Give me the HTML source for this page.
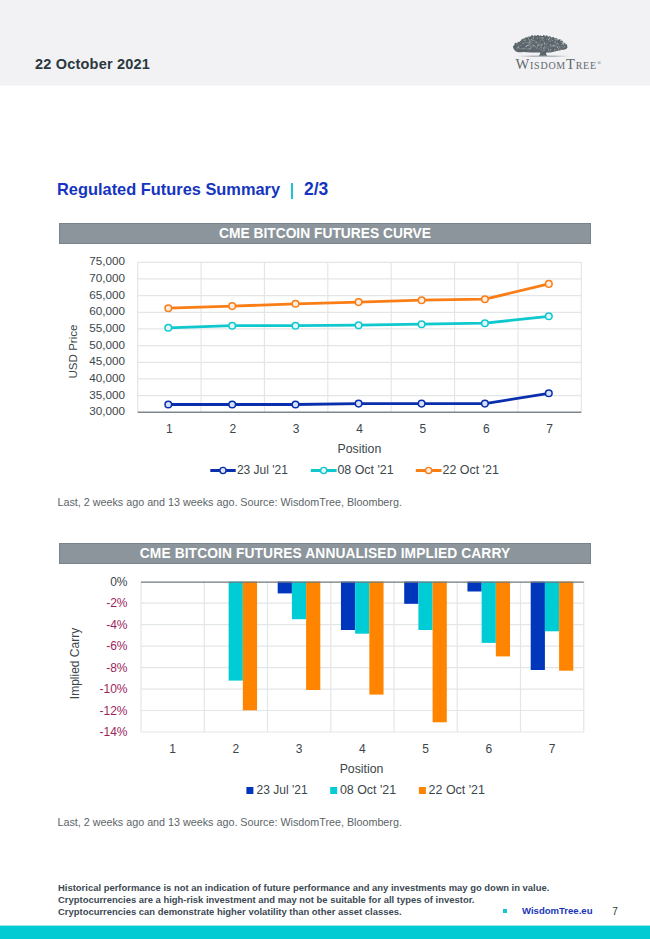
<!DOCTYPE html>
<html><head><meta charset="utf-8"><style>
html,body{margin:0;padding:0;background:#fff;}
body{width:650px;height:939px;position:relative;overflow:hidden;font-family:"Liberation Sans", Arial, sans-serif;}
.abs{position:absolute;white-space:nowrap;}
svg text{font-family:"Liberation Sans", Arial, sans-serif;}
.yl{font-size:12px;fill:#3b464b;}
.yl2{font-size:12px;fill:#9c1f5c;}
.xl{font-size:12px;fill:#3b464b;}
.hbar{position:absolute;left:59px;width:530px;height:19px;background:#8b959b;border:1px solid #79848a;color:#fff;font-weight:bold;font-size:13.8px;line-height:20px;text-align:center;}
</style></head><body>
<div class="abs" style="left:0;top:0;width:650px;height:86px;background:linear-gradient(#f2f2f4 85px,#f8f8f9 85px)"></div>
<div class="abs" style="left:35px;top:55px;font-size:14.5px;font-weight:bold;color:#2b383e;line-height:18px;letter-spacing:0.2px">22 October 2021</div>
<svg width="100" height="45" viewBox="505 30 100 45" style="position:absolute;left:505px;top:30px">
<defs><linearGradient id="gnd" x1="0" x2="1" y1="0" y2="0"><stop offset="0" stop-color="#b9bec1" stop-opacity="0"/><stop offset="0.3" stop-color="#a3a9ad"/><stop offset="0.7" stop-color="#a3a9ad"/><stop offset="1" stop-color="#b9bec1" stop-opacity="0"/></linearGradient></defs>
<path d="M513,47.2 C513.6,45 515.5,43.6 517.5,43.2 C518.5,42 519.5,42 520.2,41.6 C521.5,40 523.5,38.6 526.3,38.1 C528.5,36.8 531,36.4 533.4,36.2 C535.5,35.4 538.5,35.6 541.5,36.1 C543.5,35.8 545.5,36 546.6,36.6 C549,36.6 551.5,37.2 553.7,38.1 C556.5,38.6 558.8,40 560.8,41.6 C562.8,42.4 564.6,43.8 565.9,45.2 C567,45.8 567.8,46.5 567.4,47.4 C566.8,48.6 565.8,49.2 564.6,49.4 C561.8,50 559.2,50.2 556.7,50.9 C554.4,51.3 552.4,52 550.6,52.6 L546.2,52.5 C545.9,53.8 546.2,55 547.6,56 L538.4,56 C539.8,55 540.4,53.8 540.3,52.5 L533.4,52.4 C529.8,52.6 526.4,52.2 523.2,51.9 C520.8,52.2 518.8,52.2 517.1,51.9 C515.2,51.2 513.6,49.4 513,47.2 Z" fill="#5b646a"/>
<path d="M543,52 C540,48 534,46 526,45.5 M543,51 C545,47 551,45 559,44.8 M542,50 C541,45 537,41 531,39.5 M544,49 C546,44 548,41 552,39.5 M536,47 C532,43 528,42 522,43 M550,47 C554,46 558,46.5 563,47 M540,46 C539,42 541,39 544,37.5 M530,49.5 C526,48.5 521,48.5 516,49" fill="none" stroke="#8c9499" stroke-width="0.6"/>
<circle cx="566.2" cy="45.3" r="1.06" fill="#5b646a"/><circle cx="564.3" cy="43.8" r="1.17" fill="#5b646a"/><circle cx="561.6" cy="41.6" r="1.22" fill="#5b646a"/><circle cx="559.4" cy="40.3" r="1.16" fill="#5b646a"/><circle cx="556.3" cy="39.0" r="0.96" fill="#5b646a"/><circle cx="553.2" cy="38.1" r="1.16" fill="#5b646a"/><circle cx="549.8" cy="37.3" r="1.06" fill="#5b646a"/><circle cx="546.6" cy="36.3" r="0.95" fill="#5b646a"/><circle cx="543.8" cy="36.0" r="1.00" fill="#5b646a"/><circle cx="540.8" cy="36.2" r="0.80" fill="#5b646a"/><circle cx="537.9" cy="36.0" r="1.05" fill="#5b646a"/><circle cx="534.8" cy="36.0" r="0.80" fill="#5b646a"/><circle cx="532.0" cy="36.5" r="1.28" fill="#5b646a"/><circle cx="528.8" cy="37.7" r="1.29" fill="#5b646a"/><circle cx="526.0" cy="38.2" r="1.02" fill="#5b646a"/><circle cx="523.3" cy="39.5" r="0.95" fill="#5b646a"/><circle cx="521.3" cy="41.6" r="1.14" fill="#5b646a"/><circle cx="518.3" cy="42.7" r="0.84" fill="#5b646a"/><circle cx="515.7" cy="43.8" r="1.17" fill="#5b646a"/><circle cx="513.9" cy="46.5" r="0.83" fill="#5b646a"/><circle cx="531.5" cy="39.6" r="0.59" fill="#a9afb3"/><circle cx="518.7" cy="45.0" r="0.46" fill="#a9afb3"/><circle cx="518.0" cy="44.6" r="0.32" fill="#a9afb3"/><circle cx="537.1" cy="38.5" r="0.34" fill="#a9afb3"/><circle cx="536.7" cy="49.1" r="0.36" fill="#a9afb3"/><circle cx="526.4" cy="46.3" r="0.73" fill="#a9afb3"/><circle cx="544.4" cy="43.1" r="0.74" fill="#a9afb3"/><circle cx="529.8" cy="39.5" r="0.35" fill="#a9afb3"/><circle cx="530.7" cy="48.9" r="0.38" fill="#a9afb3"/><circle cx="544.7" cy="46.4" r="0.47" fill="#a9afb3"/><circle cx="542.9" cy="38.4" r="0.33" fill="#a9afb3"/><circle cx="525.5" cy="47.0" r="0.49" fill="#a9afb3"/><circle cx="531.0" cy="45.7" r="0.50" fill="#a9afb3"/><circle cx="530.3" cy="48.6" r="0.61" fill="#a9afb3"/><circle cx="527.4" cy="45.5" r="0.54" fill="#a9afb3"/><circle cx="559.6" cy="47.7" r="0.43" fill="#a9afb3"/><circle cx="536.3" cy="48.1" r="0.37" fill="#a9afb3"/><circle cx="539.9" cy="38.0" r="0.60" fill="#a9afb3"/><circle cx="554.0" cy="45.5" r="0.69" fill="#a9afb3"/><circle cx="531.0" cy="47.2" r="0.57" fill="#a9afb3"/><circle cx="544.6" cy="43.9" r="0.68" fill="#a9afb3"/><circle cx="563.2" cy="44.1" r="0.60" fill="#a9afb3"/><circle cx="518.1" cy="47.3" r="0.59" fill="#a9afb3"/><circle cx="529.5" cy="42.9" r="0.60" fill="#a9afb3"/><circle cx="516.2" cy="44.0" r="0.38" fill="#a9afb3"/><circle cx="554.2" cy="39.3" r="0.41" fill="#a9afb3"/><circle cx="534.9" cy="49.7" r="0.34" fill="#a9afb3"/><circle cx="537.9" cy="45.2" r="0.70" fill="#a9afb3"/><circle cx="556.8" cy="49.6" r="0.43" fill="#a9afb3"/><circle cx="536.2" cy="42.5" r="0.70" fill="#a9afb3"/><circle cx="524.0" cy="40.7" r="0.41" fill="#a9afb3"/><circle cx="539.7" cy="45.7" r="0.42" fill="#a9afb3"/><circle cx="533.8" cy="45.4" r="0.73" fill="#a9afb3"/><circle cx="550.2" cy="44.7" r="0.58" fill="#a9afb3"/><circle cx="549.5" cy="38.3" r="0.70" fill="#a9afb3"/><circle cx="554.8" cy="49.7" r="0.66" fill="#a9afb3"/><circle cx="535.0" cy="43.1" r="0.35" fill="#a9afb3"/><circle cx="547.3" cy="38.4" r="0.33" fill="#a9afb3"/><circle cx="525.6" cy="39.8" r="0.45" fill="#a9afb3"/><circle cx="533.5" cy="37.9" r="0.69" fill="#a9afb3"/><circle cx="546.3" cy="39.6" r="0.41" fill="#a9afb3"/><circle cx="532.7" cy="42.6" r="0.36" fill="#a9afb3"/><circle cx="538.8" cy="44.3" r="0.34" fill="#a9afb3"/><circle cx="520.2" cy="42.3" r="0.42" fill="#a9afb3"/><circle cx="557.3" cy="39.8" r="0.31" fill="#a9afb3"/><circle cx="563.5" cy="44.9" r="0.37" fill="#a9afb3"/><circle cx="542.7" cy="37.9" r="0.54" fill="#a9afb3"/><circle cx="550.5" cy="41.2" r="0.47" fill="#a9afb3"/><circle cx="523.5" cy="48.3" r="0.54" fill="#a9afb3"/><circle cx="554.7" cy="42.1" r="0.40" fill="#a9afb3"/><circle cx="558.5" cy="48.8" r="0.67" fill="#a9afb3"/><circle cx="552.7" cy="40.7" r="0.53" fill="#a9afb3"/><circle cx="533.1" cy="37.9" r="0.31" fill="#a9afb3"/><circle cx="529.3" cy="41.1" r="0.61" fill="#a9afb3"/><circle cx="563.8" cy="43.8" r="0.72" fill="#a9afb3"/><circle cx="533.6" cy="40.6" r="0.40" fill="#a9afb3"/><circle cx="525.0" cy="40.4" r="0.58" fill="#a9afb3"/><circle cx="560.9" cy="49.3" r="0.52" fill="#a9afb3"/><circle cx="548.3" cy="48.7" r="0.34" fill="#a9afb3"/><circle cx="548.7" cy="50.2" r="0.65" fill="#a9afb3"/><circle cx="553.3" cy="44.2" r="0.38" fill="#a9afb3"/><circle cx="555.2" cy="42.2" r="0.66" fill="#a9afb3"/><circle cx="564.6" cy="43.0" r="0.48" fill="#a9afb3"/><circle cx="563.3" cy="47.6" r="0.38" fill="#a9afb3"/><circle cx="521.5" cy="39.6" r="0.71" fill="#a9afb3"/><circle cx="556.1" cy="39.5" r="0.67" fill="#a9afb3"/><circle cx="565.0" cy="46.7" r="0.46" fill="#a9afb3"/><circle cx="543.0" cy="39.3" r="0.31" fill="#a9afb3"/><circle cx="564.5" cy="46.6" r="0.54" fill="#a9afb3"/><circle cx="562.6" cy="43.6" r="0.69" fill="#a9afb3"/><circle cx="557.1" cy="40.5" r="0.41" fill="#a9afb3"/><circle cx="529.9" cy="40.9" r="0.56" fill="#a9afb3"/><circle cx="528.2" cy="43.4" r="0.36" fill="#a9afb3"/><circle cx="561.4" cy="42.5" r="0.51" fill="#a9afb3"/><circle cx="544.8" cy="50.2" r="0.49" fill="#a9afb3"/><circle cx="561.8" cy="44.5" r="0.54" fill="#a9afb3"/><circle cx="541.7" cy="37.8" r="0.50" fill="#a9afb3"/><circle cx="555.8" cy="39.9" r="0.51" fill="#a9afb3"/><circle cx="552.0" cy="45.3" r="0.45" fill="#a9afb3"/><circle cx="541.4" cy="45.3" r="0.65" fill="#a9afb3"/><circle cx="520.4" cy="45.3" r="0.41" fill="#a9afb3"/><circle cx="529.1" cy="48.3" r="0.53" fill="#a9afb3"/><circle cx="543.6" cy="48.1" r="0.71" fill="#a9afb3"/><circle cx="537.6" cy="46.1" r="0.53" fill="#a9afb3"/><circle cx="541.1" cy="47.2" r="0.50" fill="#a9afb3"/><circle cx="542.2" cy="44.2" r="0.72" fill="#a9afb3"/><circle cx="550.7" cy="49.8" r="0.72" fill="#a9afb3"/><circle cx="528.2" cy="45.3" r="0.72" fill="#a9afb3"/><circle cx="557.8" cy="39.4" r="0.35" fill="#a9afb3"/><circle cx="537.5" cy="38.5" r="0.41" fill="#a9afb3"/><circle cx="518.7" cy="46.9" r="0.65" fill="#a9afb3"/><circle cx="560.7" cy="39.7" r="0.62" fill="#a9afb3"/><circle cx="548.7" cy="39.5" r="0.70" fill="#a9afb3"/><circle cx="563.6" cy="43.1" r="0.52" fill="#a9afb3"/><circle cx="523.2" cy="43.5" r="0.53" fill="#a9afb3"/><circle cx="532.3" cy="40.2" r="0.44" fill="#a9afb3"/><circle cx="551.8" cy="37.8" r="0.55" fill="#a9afb3"/><circle cx="537.5" cy="37.8" r="0.45" fill="#a9afb3"/><circle cx="546.8" cy="44.7" r="0.33" fill="#a9afb3"/><circle cx="528.5" cy="38.1" r="0.65" fill="#a9afb3"/><circle cx="528.8" cy="39.3" r="0.49" fill="#a9afb3"/><circle cx="561.5" cy="49.0" r="0.42" fill="#a9afb3"/><circle cx="544.1" cy="47.3" r="0.34" fill="#a9afb3"/><circle cx="517.9" cy="47.1" r="0.49" fill="#a9afb3"/><circle cx="547.4" cy="48.7" r="0.34" fill="#a9afb3"/><circle cx="559.0" cy="43.9" r="0.45" fill="#a9afb3"/><circle cx="543.2" cy="50.5" r="0.42" fill="#a9afb3"/><circle cx="521.6" cy="44.9" r="0.41" fill="#a9afb3"/><circle cx="530.9" cy="41.8" r="0.64" fill="#a9afb3"/><circle cx="529.8" cy="44.5" r="0.38" fill="#a9afb3"/><circle cx="532.7" cy="37.8" r="0.41" fill="#a9afb3"/><circle cx="543.1" cy="40.2" r="0.51" fill="#a9afb3"/><circle cx="556.8" cy="43.6" r="0.52" fill="#a9afb3"/><circle cx="557.6" cy="43.0" r="0.53" fill="#a9afb3"/><circle cx="550.1" cy="51.3" r="0.45" fill="#a9afb3"/><circle cx="557.4" cy="47.4" r="0.59" fill="#a9afb3"/>
<rect x="517" y="55.6" width="53" height="1.2" fill="url(#gnd)"/>
</svg>
<div style="position:absolute;left:515.5px;top:55.5px;font-family:'Liberation Serif',serif;font-size:14.6px;font-variant:small-caps;color:#62696e;line-height:16px;white-space:nowrap;letter-spacing:0.75px">WisdomTree</div>
<div style="position:absolute;left:597.1px;top:60px;font-family:'Liberation Serif',serif;font-size:5.5px;color:#687074;line-height:6px">&#174;</div>
<div class="abs" style="left:57.3px;top:180.1px;font-size:17px;font-weight:bold;color:#1535c0;line-height:20px;transform:scaleX(0.964);transform-origin:0 0">Regulated Futures Summary</div>
<div class="abs" style="left:290.8px;top:182.6px;width:1.9px;height:16.2px;background:#19c6cf"></div>
<div class="abs" style="left:304px;top:178.5px;font-size:17.5px;font-weight:bold;color:#1535c0;line-height:20px">2/3</div>
<div class="hbar" style="top:223px">CME BITCOIN FUTURES CURVE</div>
<div class="hbar" style="top:543px;letter-spacing:0.1px">CME BITCOIN FUTURES ANNUALISED IMPLIED CARRY</div>
<svg class="abs" style="left:0;top:0" width="650" height="939" viewBox="0 0 650 939">
<line x1="137.7" y1="262.30" x2="581.3" y2="262.30" stroke="#e3e6e8" stroke-width="1.2"/>
<line x1="137.7" y1="278.97" x2="581.3" y2="278.97" stroke="#e3e6e8" stroke-width="1.2"/>
<line x1="137.7" y1="295.63" x2="581.3" y2="295.63" stroke="#e3e6e8" stroke-width="1.2"/>
<line x1="137.7" y1="312.30" x2="581.3" y2="312.30" stroke="#e3e6e8" stroke-width="1.2"/>
<line x1="137.7" y1="328.97" x2="581.3" y2="328.97" stroke="#e3e6e8" stroke-width="1.2"/>
<line x1="137.7" y1="345.63" x2="581.3" y2="345.63" stroke="#e3e6e8" stroke-width="1.2"/>
<line x1="137.7" y1="362.30" x2="581.3" y2="362.30" stroke="#e3e6e8" stroke-width="1.2"/>
<line x1="137.7" y1="378.97" x2="581.3" y2="378.97" stroke="#e3e6e8" stroke-width="1.2"/>
<line x1="137.7" y1="395.63" x2="581.3" y2="395.63" stroke="#e3e6e8" stroke-width="1.2"/>
<line x1="137.70" y1="262.3" x2="137.70" y2="412.3" stroke="#e3e6e8" stroke-width="1.2"/>
<line x1="201.07" y1="262.3" x2="201.07" y2="412.3" stroke="#e3e6e8" stroke-width="1.2"/>
<line x1="264.44" y1="262.3" x2="264.44" y2="412.3" stroke="#e3e6e8" stroke-width="1.2"/>
<line x1="327.81" y1="262.3" x2="327.81" y2="412.3" stroke="#e3e6e8" stroke-width="1.2"/>
<line x1="391.19" y1="262.3" x2="391.19" y2="412.3" stroke="#e3e6e8" stroke-width="1.2"/>
<line x1="454.56" y1="262.3" x2="454.56" y2="412.3" stroke="#e3e6e8" stroke-width="1.2"/>
<line x1="517.93" y1="262.3" x2="517.93" y2="412.3" stroke="#e3e6e8" stroke-width="1.2"/>
<line x1="581.30" y1="262.3" x2="581.30" y2="412.3" stroke="#e3e6e8" stroke-width="1.2"/>
<line x1="137.7" y1="412.3" x2="581.3" y2="412.3" stroke="#7d868b" stroke-width="1.4"/>
<text x="125" y="265.40" text-anchor="end" class="yl" style="font-size:11.7px">75,000</text>
<text x="125" y="282.07" text-anchor="end" class="yl" style="font-size:11.7px">70,000</text>
<text x="125" y="298.73" text-anchor="end" class="yl" style="font-size:11.7px">65,000</text>
<text x="125" y="315.40" text-anchor="end" class="yl" style="font-size:11.7px">60,000</text>
<text x="125" y="332.07" text-anchor="end" class="yl" style="font-size:11.7px">55,000</text>
<text x="125" y="348.73" text-anchor="end" class="yl" style="font-size:11.7px">50,000</text>
<text x="125" y="365.40" text-anchor="end" class="yl" style="font-size:11.7px">45,000</text>
<text x="125" y="382.07" text-anchor="end" class="yl" style="font-size:11.7px">40,000</text>
<text x="125" y="398.73" text-anchor="end" class="yl" style="font-size:11.7px">35,000</text>
<text x="125" y="415.40" text-anchor="end" class="yl" style="font-size:11.7px">30,000</text>
<text x="169.39" y="432.5" text-anchor="middle" class="xl">1</text>
<text x="232.76" y="432.5" text-anchor="middle" class="xl">2</text>
<text x="296.13" y="432.5" text-anchor="middle" class="xl">3</text>
<text x="359.50" y="432.5" text-anchor="middle" class="xl">4</text>
<text x="422.87" y="432.5" text-anchor="middle" class="xl">5</text>
<text x="486.24" y="432.5" text-anchor="middle" class="xl">6</text>
<text x="549.61" y="432.5" text-anchor="middle" class="xl">7</text>
<text x="359.4" y="452.5" text-anchor="middle" class="xl" style="font-size:12.3px">Position</text>
<text transform="translate(77.3 351.5) rotate(-90)" text-anchor="middle" class="xl" style="font-size:11.6px">USD Price</text>
<polyline points="168.3,404.5 232.2,404.5 295.5,404.5 358.6,403.6 421.6,403.6 484.9,403.6 548.8,393.3" fill="none" stroke="#0a2fad" stroke-width="2.8" stroke-linejoin="round"/>
<circle cx="168.3" cy="404.5" r="3.3" fill="#d6e2fc" stroke="#0a2fad" stroke-width="1.5"/>
<circle cx="232.2" cy="404.5" r="3.3" fill="#d6e2fc" stroke="#0a2fad" stroke-width="1.5"/>
<circle cx="295.5" cy="404.5" r="3.3" fill="#d6e2fc" stroke="#0a2fad" stroke-width="1.5"/>
<circle cx="358.6" cy="403.6" r="3.3" fill="#d6e2fc" stroke="#0a2fad" stroke-width="1.5"/>
<circle cx="421.6" cy="403.6" r="3.3" fill="#d6e2fc" stroke="#0a2fad" stroke-width="1.5"/>
<circle cx="484.9" cy="403.6" r="3.3" fill="#d6e2fc" stroke="#0a2fad" stroke-width="1.5"/>
<circle cx="548.8" cy="393.3" r="3.3" fill="#d6e2fc" stroke="#0a2fad" stroke-width="1.5"/>
<polyline points="168.3,327.8 232.2,325.7 295.5,325.7 358.6,325.2 421.6,324.2 484.9,323.2 548.8,316.3" fill="none" stroke="#0fc8ce" stroke-width="2.8" stroke-linejoin="round"/>
<circle cx="168.3" cy="327.8" r="3.3" fill="#e3f8f9" stroke="#0fc8ce" stroke-width="1.5"/>
<circle cx="232.2" cy="325.7" r="3.3" fill="#e3f8f9" stroke="#0fc8ce" stroke-width="1.5"/>
<circle cx="295.5" cy="325.7" r="3.3" fill="#e3f8f9" stroke="#0fc8ce" stroke-width="1.5"/>
<circle cx="358.6" cy="325.2" r="3.3" fill="#e3f8f9" stroke="#0fc8ce" stroke-width="1.5"/>
<circle cx="421.6" cy="324.2" r="3.3" fill="#e3f8f9" stroke="#0fc8ce" stroke-width="1.5"/>
<circle cx="484.9" cy="323.2" r="3.3" fill="#e3f8f9" stroke="#0fc8ce" stroke-width="1.5"/>
<circle cx="548.8" cy="316.3" r="3.3" fill="#e3f8f9" stroke="#0fc8ce" stroke-width="1.5"/>
<polyline points="168.3,308.2 232.2,306.1 295.5,303.8 358.6,302.1 421.6,300.2 484.9,299.2 548.8,283.9" fill="none" stroke="#fa7d16" stroke-width="2.8" stroke-linejoin="round"/>
<circle cx="168.3" cy="308.2" r="3.3" fill="#fdeee2" stroke="#fa7d16" stroke-width="1.5"/>
<circle cx="232.2" cy="306.1" r="3.3" fill="#fdeee2" stroke="#fa7d16" stroke-width="1.5"/>
<circle cx="295.5" cy="303.8" r="3.3" fill="#fdeee2" stroke="#fa7d16" stroke-width="1.5"/>
<circle cx="358.6" cy="302.1" r="3.3" fill="#fdeee2" stroke="#fa7d16" stroke-width="1.5"/>
<circle cx="421.6" cy="300.2" r="3.3" fill="#fdeee2" stroke="#fa7d16" stroke-width="1.5"/>
<circle cx="484.9" cy="299.2" r="3.3" fill="#fdeee2" stroke="#fa7d16" stroke-width="1.5"/>
<circle cx="548.8" cy="283.9" r="3.3" fill="#fdeee2" stroke="#fa7d16" stroke-width="1.5"/>
<line x1="210.3" y1="470.5" x2="235.7" y2="470.5" stroke="#0a2fad" stroke-width="3"/>
<circle cx="223.00" cy="470.5" r="3.1" fill="#dfe6fa" stroke="#0a2fad" stroke-width="1.4"/>
<text x="236.9" y="474.1" class="xl" style="font-size:12px">23 Jul '21</text>
<line x1="310.8" y1="470.5" x2="336.6" y2="470.5" stroke="#0fc8ce" stroke-width="3"/>
<circle cx="323.70" cy="470.5" r="3.1" fill="#e3f8f9" stroke="#0fc8ce" stroke-width="1.4"/>
<text x="337.4" y="474.1" class="xl" style="font-size:12.45px">08 Oct '21</text>
<line x1="415.8" y1="470.5" x2="441.5" y2="470.5" stroke="#fa7d16" stroke-width="3"/>
<circle cx="428.65" cy="470.5" r="3.1" fill="#fdeee2" stroke="#fa7d16" stroke-width="1.4"/>
<text x="442.5" y="474.1" class="xl" style="font-size:12.45px">22 Oct '21</text>
<line x1="141.0" y1="603.09" x2="583.75" y2="603.09" stroke="#e3e6e8" stroke-width="1.2"/>
<line x1="141.0" y1="624.57" x2="583.75" y2="624.57" stroke="#e3e6e8" stroke-width="1.2"/>
<line x1="141.0" y1="646.06" x2="583.75" y2="646.06" stroke="#e3e6e8" stroke-width="1.2"/>
<line x1="141.0" y1="667.54" x2="583.75" y2="667.54" stroke="#e3e6e8" stroke-width="1.2"/>
<line x1="141.0" y1="689.03" x2="583.75" y2="689.03" stroke="#e3e6e8" stroke-width="1.2"/>
<line x1="141.0" y1="710.51" x2="583.75" y2="710.51" stroke="#e3e6e8" stroke-width="1.2"/>
<line x1="141.0" y1="732.00" x2="583.75" y2="732.00" stroke="#e3e6e8" stroke-width="1.2"/>
<line x1="141.00" y1="581.6" x2="141.00" y2="732.0" stroke="#e3e6e8" stroke-width="1.2"/>
<line x1="204.25" y1="581.6" x2="204.25" y2="732.0" stroke="#e3e6e8" stroke-width="1.2"/>
<line x1="267.50" y1="581.6" x2="267.50" y2="732.0" stroke="#e3e6e8" stroke-width="1.2"/>
<line x1="330.75" y1="581.6" x2="330.75" y2="732.0" stroke="#e3e6e8" stroke-width="1.2"/>
<line x1="394.00" y1="581.6" x2="394.00" y2="732.0" stroke="#e3e6e8" stroke-width="1.2"/>
<line x1="457.25" y1="581.6" x2="457.25" y2="732.0" stroke="#e3e6e8" stroke-width="1.2"/>
<line x1="520.50" y1="581.6" x2="520.50" y2="732.0" stroke="#e3e6e8" stroke-width="1.2"/>
<line x1="583.75" y1="581.6" x2="583.75" y2="732.0" stroke="#e3e6e8" stroke-width="1.2"/>
<text x="127.5" y="585.80" text-anchor="end" class="yl">0%</text>
<text x="127.5" y="607.29" text-anchor="end" class="yl2">-2%</text>
<text x="127.5" y="628.77" text-anchor="end" class="yl2">-4%</text>
<text x="127.5" y="650.26" text-anchor="end" class="yl2">-6%</text>
<text x="127.5" y="671.74" text-anchor="end" class="yl2">-8%</text>
<text x="127.5" y="693.23" text-anchor="end" class="yl2">-10%</text>
<text x="127.5" y="714.71" text-anchor="end" class="yl2">-12%</text>
<text x="127.5" y="736.20" text-anchor="end" class="yl2">-14%</text>
<text x="172.62" y="752.7" text-anchor="middle" class="xl">1</text>
<text x="235.88" y="752.7" text-anchor="middle" class="xl">2</text>
<text x="299.12" y="752.7" text-anchor="middle" class="xl">3</text>
<text x="362.38" y="752.7" text-anchor="middle" class="xl">4</text>
<text x="425.62" y="752.7" text-anchor="middle" class="xl">5</text>
<text x="488.88" y="752.7" text-anchor="middle" class="xl">6</text>
<text x="552.12" y="752.7" text-anchor="middle" class="xl">7</text>
<text x="361.5" y="773.2" text-anchor="middle" class="xl" style="font-size:12.3px">Position</text>
<text transform="translate(79 663.5) rotate(-90)" text-anchor="middle" class="xl">Implied Carry</text>
<rect x="228.65" y="581.6" width="14.2" height="99.00" fill="#00ccd5"/>
<rect x="242.85" y="581.6" width="14.2" height="128.70" fill="#ff8500"/>
<rect x="277.70" y="581.6" width="14.2" height="11.80" fill="#0036bb"/>
<rect x="291.90" y="581.6" width="14.2" height="37.60" fill="#00ccd5"/>
<rect x="306.10" y="581.6" width="14.2" height="108.40" fill="#ff8500"/>
<rect x="340.95" y="581.6" width="14.2" height="48.40" fill="#0036bb"/>
<rect x="355.15" y="581.6" width="14.2" height="52.10" fill="#00ccd5"/>
<rect x="369.35" y="581.6" width="14.2" height="113.00" fill="#ff8500"/>
<rect x="404.20" y="581.6" width="14.2" height="22.20" fill="#0036bb"/>
<rect x="418.40" y="581.6" width="14.2" height="48.40" fill="#00ccd5"/>
<rect x="432.60" y="581.6" width="14.2" height="140.70" fill="#ff8500"/>
<rect x="467.45" y="581.6" width="14.2" height="9.90" fill="#0036bb"/>
<rect x="481.65" y="581.6" width="14.2" height="61.30" fill="#00ccd5"/>
<rect x="495.85" y="581.6" width="14.2" height="74.80" fill="#ff8500"/>
<rect x="530.70" y="581.6" width="14.2" height="88.40" fill="#0036bb"/>
<rect x="544.90" y="581.6" width="14.2" height="49.70" fill="#00ccd5"/>
<rect x="559.10" y="581.6" width="14.2" height="89.10" fill="#ff8500"/>
<line x1="141.0" y1="582.1" x2="583.75" y2="582.1" stroke="#6f787d" stroke-width="1.4"/>
<rect x="246.4" y="787" width="7" height="7" fill="#0036bb"/>
<text x="256.6" y="793.7" class="xl" style="font-size:12px">23 Jul '21</text>
<rect x="330.2" y="787" width="7" height="7" fill="#00ccd5"/>
<text x="339.9" y="793.7" class="xl" style="font-size:12.45px">08 Oct '21</text>
<rect x="418.9" y="787" width="7" height="7" fill="#ff8500"/>
<text x="428.6" y="793.7" class="xl" style="font-size:12.45px">22 Oct '21</text>
</svg>
<div class="abs" style="left:57.5px;top:495.5px;font-size:10.75px;color:#5b6569;line-height:13px">Last, 2 weeks ago and 13 weeks ago. Source: WisdomTree, Bloomberg.</div>
<div class="abs" style="left:57.5px;top:816.2px;font-size:10.75px;color:#5b6569;line-height:13px">Last, 2 weeks ago and 13 weeks ago. Source: WisdomTree, Bloomberg.</div>
<div class="abs" style="left:58px;top:882px;font-size:9.45px;font-weight:bold;color:#3c4953;line-height:11.8px">Historical performance is not an indication of future performance and any investments may go down in value.<br>Cryptocurrencies are a high-risk investment and may not be suitable for all types of investor.<br>Cryptocurrencies can demonstrate higher volatility than other asset classes.</div>
<div class="abs" style="left:503.4px;top:909.3px;width:3.4px;height:3.4px;background:#19c6cf"></div>
<div class="abs" style="left:522px;top:905px;font-size:9.55px;font-weight:bold;color:#1834b9;line-height:12px">WisdomTree.eu</div>
<div class="abs" style="left:612.3px;top:906.4px;font-size:10px;color:#2b383e;line-height:12px">7</div>
<div class="abs" style="left:0;top:925px;width:650px;height:14px;background:linear-gradient(#9be8ec 1px,#02cbd4 1px)"></div>
</body></html>
